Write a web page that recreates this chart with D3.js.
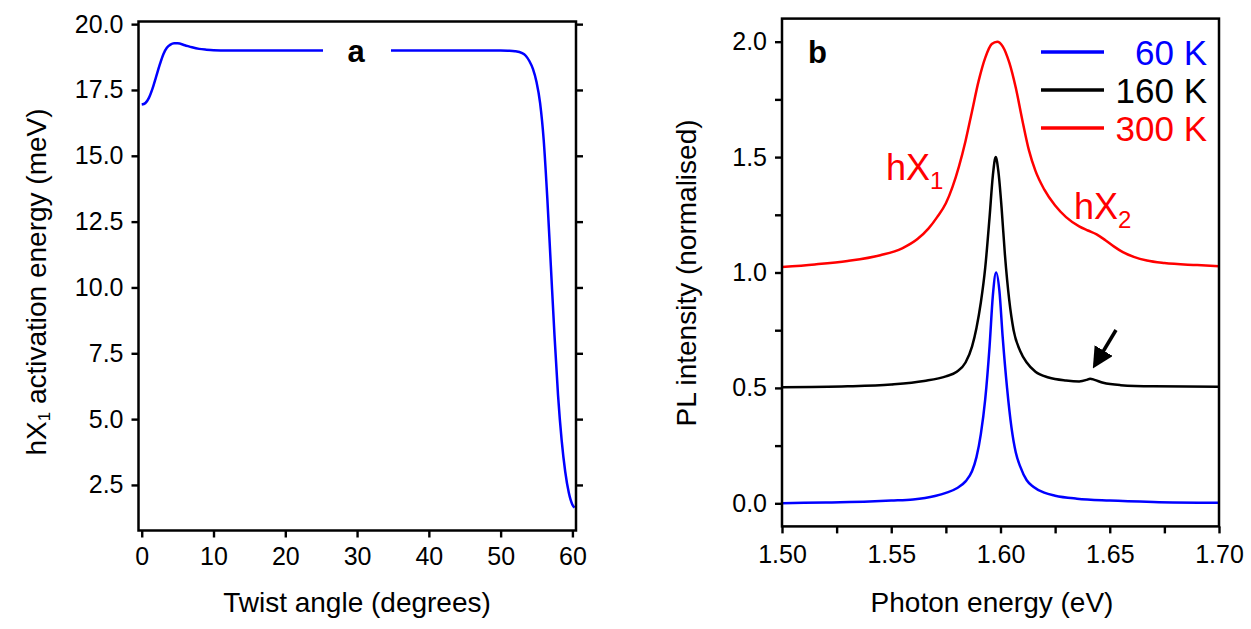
<!DOCTYPE html>
<html>
<head>
<meta charset="utf-8">
<script src="https://cdn.jsdelivr.net/npm/d3@7"></script>
<style>
  body { margin: 0; background: #fff; }
  svg { font-family: Arial, "Liberation Sans", sans-serif; }
</style>
</head>
<body>
<div id="chart"></div>
<script>
// panel a: twist angle (deg) vs hX1 activation energy (meV)
const twistAngle = [0, 0.5, 1, 1.5, 2, 2.5, 3, 3.5, 4, 4.5, 5, 6, 7, 8, 9, 10, 12, 20, 30, 40, 50, 51, 52, 53, 53.5, 54, 54.5, 55, 55.5, 56, 56.5, 57, 57.5, 58, 58.5, 59, 59.5, 60, 60.3];
const activation = [16.95, 17.0, 17.2, 17.55, 18.0, 18.45, 18.85, 19.1, 19.22, 19.27, 19.27, 19.2, 19.12, 19.06, 19.03, 19.01, 19.0, 19.0, 19.0, 19.0, 19.0, 18.99, 18.97, 18.9, 18.8, 18.6, 18.3, 17.8, 17.0, 15.6, 13.4, 10.8, 8.2, 5.9, 4.2, 3.0, 2.2, 1.75, 1.64];

// panel b: PL spectra, offset by 0.5 each
const energy60 = [1.500, 1.520, 1.540, 1.550, 1.560, 1.570, 1.575, 1.580, 1.584, 1.587, 1.589, 1.591, 1.593, 1.595, 1.5965, 1.598, 1.5995, 1.601, 1.603, 1.605, 1.607, 1.609, 1.612, 1.615, 1.620, 1.625, 1.635, 1.650, 1.670, 1.700];
const pl60 = [0.0, 0.004, 0.008, 0.012, 0.017, 0.032, 0.045, 0.065, 0.095, 0.14, 0.20, 0.30, 0.45, 0.68, 0.90, 1.0, 0.92, 0.72, 0.50, 0.33, 0.22, 0.16, 0.10, 0.072, 0.046, 0.033, 0.020, 0.012, 0.006, 0.002];
const energy160 = [1.500, 1.530, 1.550, 1.565, 1.575, 1.580, 1.584, 1.587, 1.589, 1.591, 1.593, 1.595, 1.5965, 1.5978, 1.599, 1.6005, 1.602, 1.604, 1.606, 1.609, 1.612, 1.616, 1.622, 1.630, 1.636, 1.6395, 1.641, 1.643, 1.647, 1.655, 1.670, 1.700];
const pl160 = [0.503, 0.507, 0.515, 0.53, 0.55, 0.57, 0.61, 0.68, 0.76, 0.87, 1.02, 1.24, 1.42, 1.50, 1.44, 1.28, 1.08, 0.88, 0.75, 0.66, 0.61, 0.57, 0.545, 0.532, 0.528, 0.535, 0.54, 0.535, 0.522, 0.512, 0.507, 0.505];
const energy300 = [1.500, 1.515, 1.530, 1.545, 1.555, 1.562, 1.567, 1.571, 1.575, 1.578, 1.581, 1.584, 1.587, 1.590, 1.593, 1.596, 1.5985, 1.601, 1.604, 1.607, 1.610, 1.613, 1.616, 1.620, 1.625, 1.630, 1.636, 1.640, 1.644, 1.648, 1.652, 1.656, 1.661, 1.667, 1.675, 1.690, 1.700];
const pl300 = [1.024, 1.035, 1.05, 1.075, 1.105, 1.145, 1.19, 1.24, 1.30, 1.37, 1.46, 1.57, 1.70, 1.83, 1.93, 1.99, 2.0, 1.98, 1.91, 1.80, 1.66, 1.53, 1.44, 1.36, 1.29, 1.24, 1.20, 1.182, 1.165, 1.14, 1.112, 1.088, 1.068, 1.052, 1.041, 1.032, 1.027];

const seriesNames = ['60 K', '160 K', '300 K'];
const seriesColors = ['#0000ff', '#000000', '#ff0000'];

const angleTicks = [0, 10, 20, 30, 40, 50, 60];
const activationTicks = [2.5, 5.0, 7.5, 10.0, 12.5, 15.0, 17.5, 20.0];
const energyTicks = [1.50, 1.55, 1.60, 1.65, 1.70];
const energyMinor = [1.525, 1.575, 1.625, 1.675];
const plTicks = [0.0, 0.5, 1.0, 1.5, 2.0];
const plMinor = [0.25, 0.75, 1.25, 1.75];

const W = 1251, H = 629;
const svg = d3.select('#chart').append('svg')
    .attr('width', W).attr('height', H);

// ---------- panel a ----------
const xA = d3.scaleLinear().domain([-0.45, 60.5]).range([138.5, 576]);
const yA = d3.scaleLinear().domain([0.77, 20.1]).range([530.5, 21.5]);

function styleAxis(g, size){
    g.select('.domain').remove();
    g.selectAll('.tick line').attr('stroke', '#000').attr('stroke-width', 2.4);
    g.selectAll('.tick text').attr('font-size', size).attr('fill', '#000')
        .attr('font-family', 'Arial, "Liberation Sans", sans-serif');
}

svg.append('g').attr('transform', `translate(0,${yA.range()[0]})`)
    .call(d3.axisBottom(xA).tickValues(angleTicks).tickSize(7).tickPadding(10).tickFormat(d3.format('d')))
    .call(g => styleAxis(g, 25));
svg.append('g').attr('transform', `translate(${xA.range()[0]},0)`)
    .call(d3.axisLeft(yA).tickValues(activationTicks).tickSize(7).tickPadding(8).tickFormat(d3.format('.1f')))
    .call(g => styleAxis(g, 25));
svg.append('g').attr('transform', `translate(${xA.range()[1]},0)`)
    .call(d3.axisRight(yA).tickValues(activationTicks).tickSize(7).tickFormat(''))
    .call(g => styleAxis(g, 25));

const lineA = d3.line()
    .x((d, i) => xA(twistAngle[i]))
    .y(d => yA(d))
    .curve(d3.curveMonotoneX);
svg.append('path').datum(activation)
    .attr('d', lineA).attr('fill', 'none')
    .attr('stroke', '#0000ff').attr('stroke-width', 2.5);

// label "a" with white gap behind it
svg.append('rect').attr('x', 323).attr('y', 36).attr('width', 68).attr('height', 32).attr('fill', '#fff');
svg.append('text').attr('x', 356).attr('y', 62).attr('text-anchor', 'middle')
    .attr('font-size', 31).attr('font-weight', 'bold').text('a');

svg.append('rect')
    .attr('x', xA.range()[0]).attr('y', yA.range()[1])
    .attr('width', xA.range()[1] - xA.range()[0])
    .attr('height', yA.range()[0] - yA.range()[1])
    .attr('fill', 'none').attr('stroke', '#000').attr('stroke-width', 2.5);

svg.append('text').attr('x', 357).attr('y', 612).attr('text-anchor', 'middle')
    .attr('font-size', 28).attr('fill', '#000').text('Twist angle (degrees)');

const yTitleA = svg.append('text')
    .attr('transform', 'translate(46,282) rotate(-90)')
    .attr('text-anchor', 'middle').attr('font-size', 28).attr('fill', '#000');
yTitleA.append('tspan').text('hX');
yTitleA.append('tspan').attr('font-size', 17).attr('dy', 4).text('1');
yTitleA.append('tspan').attr('dy', -4).text(' activation energy (meV)');

// ---------- panel b ----------
const xB = d3.scaleLinear().domain([1.5, 1.7]).range([782, 1219]);
const yB = d3.scaleLinear().domain([-0.1, 2.1]).range([526.4, 18.6]);

svg.append('g').attr('transform', `translate(0,${yB.range()[0]})`)
    .call(d3.axisBottom(xB).tickValues(energyTicks).tickSize(7).tickPadding(12).tickFormat(d3.format('.2f')))
    .call(g => styleAxis(g, 25));
svg.append('g').attr('transform', `translate(0,${yB.range()[0]})`)
    .call(d3.axisBottom(xB).tickValues(energyMinor).tickSize(7).tickFormat(''))
    .call(g => styleAxis(g, 25));
svg.append('g').attr('transform', `translate(${xB.range()[0]},0)`)
    .call(d3.axisLeft(yB).tickValues(plTicks).tickSize(7).tickPadding(8).tickFormat(d3.format('.1f')))
    .call(g => styleAxis(g, 25));
svg.append('g').attr('transform', `translate(${xB.range()[0]},0)`)
    .call(d3.axisLeft(yB).tickValues(plMinor).tickSize(7).tickFormat(''))
    .call(g => styleAxis(g, 25));

const spectra = [
    {name: seriesNames[0], color: seriesColors[0], xs: energy60, ys: pl60},
    {name: seriesNames[1], color: seriesColors[1], xs: energy160, ys: pl160},
    {name: seriesNames[2], color: seriesColors[2], xs: energy300, ys: pl300}
];
const plot = svg.append('g');
spectra.slice().reverse().forEach(s => {
    const line = d3.line()
        .x((d, i) => xB(s.xs[i]))
        .y(d => yB(d))
        .curve(d3.curveMonotoneX);
    plot.append('path').datum(s.ys).attr('d', line)
        .attr('fill', 'none').attr('stroke', s.color).attr('stroke-width', 2.5);
});

svg.append('rect')
    .attr('x', xB.range()[0]).attr('y', yB.range()[1])
    .attr('width', xB.range()[1] - xB.range()[0])
    .attr('height', yB.range()[0] - yB.range()[1])
    .attr('fill', 'none').attr('stroke', '#000').attr('stroke-width', 2.5);

// legend
const legend = svg.append('g');
spectra.forEach((s, i) => {
    const y = 52 + i * 38;
    legend.append('line').attr('x1', 1041).attr('x2', 1104).attr('y1', y).attr('y2', y)
        .attr('stroke', s.color).attr('stroke-width', 3.5);
    legend.append('text').attr('x', 1207).attr('y', y + 13).attr('text-anchor', 'end')
        .attr('font-size', 35).attr('fill', s.color).text(s.name);
});

svg.append('text').attr('x', 808).attr('y', 63).attr('font-size', 31).attr('font-weight', 'bold').text('b');

// peak labels
function peakLabel(x, y, sub){
    const t = svg.append('text').attr('x', x).attr('y', y).attr('font-size', 36).attr('fill', '#ff0000');
    t.append('tspan').text('hX');
    t.append('tspan').attr('font-size', 24).attr('dy', 9).text(sub);
}
peakLabel(886, 180, '1');
peakLabel(1074, 219, '2');

// arrow marking the hX2 shoulder at 160 K
svg.append('defs').append('marker')
    .attr('id', 'head').attr('viewBox', '0 0 10 10').attr('refX', 8).attr('refY', 5)
    .attr('markerWidth', 6).attr('markerHeight', 6).attr('orient', 'auto')
    .append('path').attr('d', 'M0,0 L10,5 L0,10 Z').attr('fill', '#000');
svg.append('line').attr('x1', 1116).attr('y1', 330).attr('x2', 1095).attr('y2', 365)
    .attr('stroke', '#000').attr('stroke-width', 3.5).attr('marker-end', 'url(#head)');

svg.append('text').attr('x', 992).attr('y', 612).attr('text-anchor', 'middle')
    .attr('font-size', 28).attr('fill', '#000').text('Photon energy (eV)');
svg.append('text').attr('transform', 'translate(696,273) rotate(-90)')
    .attr('text-anchor', 'middle').attr('font-size', 28).attr('fill', '#000')
    .text('PL intensity (normalised)');
</script>
</body>
</html>
